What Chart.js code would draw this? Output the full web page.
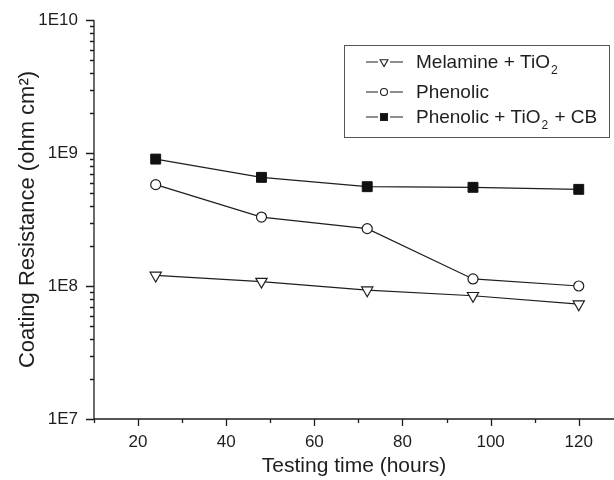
<!DOCTYPE html>
<html>
<head>
<meta charset="utf-8">
<script src="https://cdn.jsdelivr.net/npm/chart.js@4.4.0/dist/chart.umd.min.js"></script>
<style>
  html, body { margin: 0; padding: 0; background: #fff; }
</style>
</head>
<body>
<canvas id="myChart" width="614" height="480"></canvas>
<script>
const horas = [24, 48, 72, 96, 120];
const melamina = [1.2e8, 1.08e8, 9.3e7, 8.45e7, 7.3e7];
const fenolico = [5.78e8, 3.3e8, 2.7e8, 1.13e8, 1.0e8];
const fenolicoCB = [9.0e8, 6.56e8, 5.58e8, 5.52e8, 5.33e8];
const etiquetas = ["Melamine + TiO₂", "Phenolic", "Phenolic + TiO₂ + CB"];

const ticksX = [20, 40, 60, 80, 100, 120];
const ticksXMenores = [10, 30, 50, 70, 90, 110];
const decadas = [1e7, 1e8, 1e9, 1e10];
const multiplosMenores = [2, 3, 4, 5, 6, 7, 8, 9];

const fuente = "'Liberation Sans', Arial, Helvetica, sans-serif";
const tinta = "#1e1e1e";

function puntos(valores) {
  return horas.map((h, i) => ({ x: h, y: valores[i] }));
}

// texto con subindice: el caracter ₂ se dibuja como un 2 chico y abajo
function dibujarTexto(ctx, texto, x, y, size) {
  const partes = texto.split("₂");
  let cx = x;
  partes.forEach((parte, i) => {
    ctx.font = size + "px " + fuente;
    ctx.fillText(parte, cx, y);
    cx += ctx.measureText(parte).width;
    if (i < partes.length - 1) {
      ctx.font = Math.round(size * 0.65) + "px " + fuente;
      ctx.fillText("2", cx + 1, y + size * 0.3);
      cx += ctx.measureText("2").width + 2;
    }
  });
}

const ejes = {
  id: "ejes",
  beforeDatasetsDraw(chart) {
    const ctx = chart.ctx;
    const x = chart.scales.x;
    const y = chart.scales.y;
    ctx.save();
    ctx.strokeStyle = tinta;
    ctx.lineWidth = 1.3;
    ctx.beginPath();
    ctx.moveTo(x.left, y.top);
    ctx.lineTo(x.left, y.bottom);
    ctx.lineTo(x.right, y.bottom);
    decadas.forEach((v) => {
      const p = Math.round(y.getPixelForValue(v)) + 0.5;
      ctx.moveTo(x.left - 8, p);
      ctx.lineTo(x.left, p);
      if (v < 1e10) {
        multiplosMenores.forEach((m) => {
          const q = Math.round(y.getPixelForValue(v * m)) + 0.5;
          ctx.moveTo(x.left - 4, q);
          ctx.lineTo(x.left, q);
        });
      }
    });
    ticksX.forEach((v) => {
      const p = Math.round(x.getPixelForValue(v)) + 0.5;
      ctx.moveTo(p, y.bottom);
      ctx.lineTo(p, y.bottom + 7);
    });
    ticksXMenores.forEach((v) => {
      const p = Math.round(x.getPixelForValue(v)) + 0.5;
      ctx.moveTo(p, y.bottom);
      ctx.lineTo(p, y.bottom + 4);
    });
    ctx.stroke();
    ctx.restore();
  },
};

const leyenda = {
  id: "leyenda",
  afterDraw(chart) {
    const ctx = chart.ctx;
    const bases = [68, 98, 123];
    ctx.save();
    ctx.strokeStyle = "#555";
    ctx.lineWidth = 1;
    ctx.strokeRect(344.5, 45.5, 265, 92);
    chart.data.datasets.forEach((ds, i) => {
      const yy = bases[i] - 6.5;
      ctx.strokeStyle = tinta;
      ctx.lineWidth = 1.1;
      ctx.beginPath();
      ctx.moveTo(366, yy + 0.5);
      ctx.lineTo(378, yy + 0.5);
      ctx.moveTo(390, yy + 0.5);
      ctx.lineTo(403, yy + 0.5);
      ctx.stroke();
      ctx.fillStyle = ds.pointBackgroundColor;
      Chart.helpers.drawPoint(ctx, {
        pointStyle: ds.pointStyle,
        rotation: ds.rotation || 0,
        radius: ds.pointRadius * 0.7,
        borderWidth: 1,
      }, 384, yy + 0.5);
      ctx.fillStyle = tinta;
      ctx.textBaseline = "alphabetic";
      ctx.textAlign = "left";
      dibujarTexto(ctx, ds.label, 416, bases[i], 19);
    });
    ctx.restore();
  },
};

const ctx = document.getElementById("myChart").getContext("2d");
const myChart = new Chart(ctx, {
  type: "line",
  data: {
    datasets: [
      {
        label: etiquetas[0],
        data: puntos(melamina),
        borderColor: tinta,
        borderWidth: 1.2,
        pointStyle: "triangle",
        rotation: 180,
        pointRadius: 6.5,
        pointBackgroundColor: "#fff",
        pointBorderColor: tinta,
        pointBorderWidth: 1.2,
      },
      {
        label: etiquetas[1],
        data: puntos(fenolico),
        borderColor: tinta,
        borderWidth: 1.2,
        pointStyle: "circle",
        pointRadius: 5,
        pointBackgroundColor: "#fff",
        pointBorderColor: tinta,
        pointBorderWidth: 1.2,
      },
      {
        label: etiquetas[2],
        data: puntos(fenolicoCB),
        borderColor: tinta,
        borderWidth: 1.2,
        pointStyle: "rect",
        pointRadius: 7,
        pointBackgroundColor: "#111",
        pointBorderColor: "#111",
        pointBorderWidth: 1,
      },
    ],
  },
  options: {
    responsive: false,
    animation: false,
    devicePixelRatio: 1,
    layout: { autoPadding: false, padding: { top: 20, right: 0, left: 0, bottom: 0 } },
    plugins: { legend: { display: false }, tooltip: { enabled: false } },
    scales: {
      x: {
        type: "linear",
        min: 10,
        max: 128,
        afterBuildTicks: (s) => { s.ticks = ticksX.map((v) => ({ value: v })); },
        afterFit: (s) => { s.height = 61; s.paddingRight = 0; s.paddingLeft = 0; },
        grid: { display: false, tickLength: 7 },
        border: { display: false },
        ticks: { color: tinta, font: { family: fuente, size: 17 }, padding: 6 },
        title: {
          display: true,
          text: "Testing time (hours)",
          color: tinta,
          font: { family: fuente, size: 21 },
          padding: { top: 1.5, bottom: 1.5 },
        },
      },
      y: {
        type: "logarithmic",
        min: 1e7,
        max: 1e10,
        afterBuildTicks: (s) => { s.ticks = decadas.map((v) => ({ value: v })); },
        afterFit: (s) => { s.width = 94; },
        grid: { display: false, tickLength: 8 },
        border: { display: false },
        ticks: {
          color: tinta,
          font: { family: fuente, size: 17 },
          padding: 8,
          callback: (v) => "1E" + Math.round(Math.log10(v)),
        },
        title: {
          display: true,
          text: "Coating Resistance (ohm cm²)",
          color: tinta,
          font: { family: fuente, size: 22 },
          padding: { top: 15, bottom: 0 },
        },
      },
    },
  },
  plugins: [ejes, leyenda],
});
</script>
</body>
</html>
